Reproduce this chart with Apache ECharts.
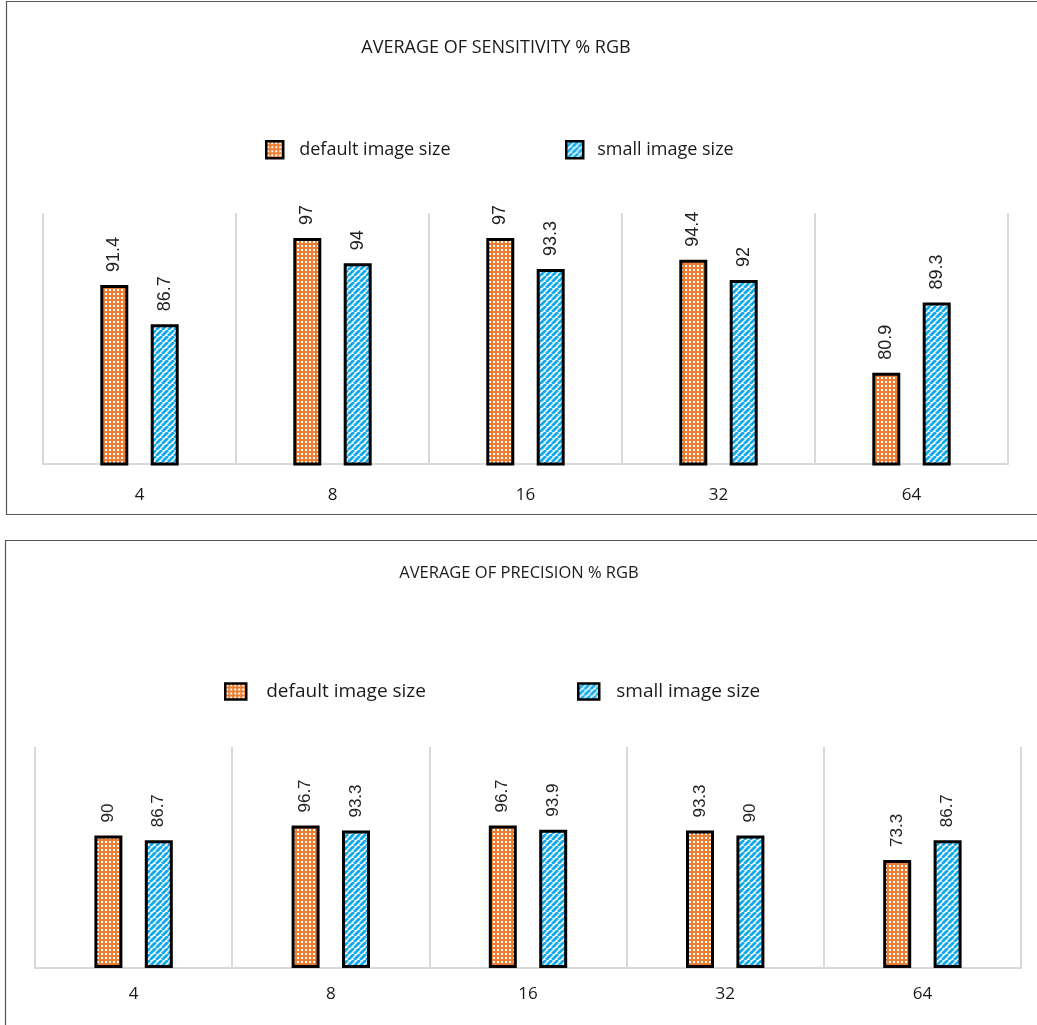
<!DOCTYPE html>
<html>
<head>
<meta charset="utf-8">
<script src="https://cdn.jsdelivr.net/npm/echarts@6/dist/echarts.min.js"></script>
<style>
  html, body { margin: 0; padding: 0; background: #fff; }
  #chart { width: 1037px; height: 1025px; }
</style>
</head>
<body>
<div id="chart"></div>
<script>
// Categories (number of something per image) shared by both panels
const categories = ['4', '8', '16', '32', '64'];
const seriesNames = ['default image size', 'small image size'];

// Panel 1: average sensitivity (%)
const sensitivityDefault = [91.4, 97, 97, 94.4, 80.9];
const sensitivitySmall = [86.7, 94, 93.3, 92, 89.3];

// Panel 2: average precision (%)
const precisionDefault = [90, 96.7, 96.7, 93.3, 73.3];
const precisionSmall = [86.7, 93.3, 93.9, 90, 86.7];

const titles = ['AVERAGE OF SENSITIVITY % RGB', 'AVERAGE OF PRECISION % RGB'];

// Fill patterns: orange dotted grid and blue diagonal stripes
function dotPattern() {
  const c = document.createElement('canvas');
  c.width = 4; c.height = 4;
  const g = c.getContext('2d');
  g.fillStyle = '#ED7D31';
  g.fillRect(0, 0, 4, 4);
  g.fillStyle = '#ffffff';
  g.fillRect(1, 1, 2, 2);
  return c;
}
function stripePattern() {
  const s = 6;
  const c = document.createElement('canvas');
  c.width = s; c.height = s;
  const g = c.getContext('2d');
  g.fillStyle = '#ffffff';
  g.fillRect(0, 0, s, s);
  g.strokeStyle = '#12A9EC';
  g.lineWidth = 2.8;
  for (let x = -s; x <= s; x += s) {
    g.beginPath();
    g.moveTo(x, s);
    g.lineTo(x + s, 0);
    g.stroke();
  }
  return c;
}
const orangeFill = { image: dotPattern(), repeat: 'repeat' };
const blueFill = { image: stripePattern(), repeat: 'repeat' };

const gridLine = '#D9D9D9';
const textColor = '#1a1a1a';
const uiFont = 'Open Sans';

function xAxis(gridIndex, margin) {
  return {
    type: 'category',
    gridIndex,
    data: categories,
    axisTick: { show: false },
    axisLine: { lineStyle: { color: gridLine, width: 2 } },
    splitLine: { show: true, lineStyle: { color: gridLine, width: 2 } },
    axisLabel: { fontSize: 17, color: textColor, fontFamily: uiFont, margin }
  };
}
function yAxis(gridIndex, min, max) {
  return {
    type: 'value', gridIndex, min, max,
    show: false,
    splitLine: { show: false }
  };
}
function barSeries(name, data, idx, fill, fontSize) {
  return {
    type: 'bar',
    name,
    data,
    xAxisIndex: idx,
    yAxisIndex: idx,
    barWidth: 28,
    barGap: '80%',
    itemStyle: { color: fill, borderColor: '#000', borderWidth: 3 },
    label: {
      show: true,
      position: 'top',
      rotate: 90,
      align: 'left',
      verticalAlign: 'middle',
      distance: 13,
      fontSize,
      color: '#222',
      fontFamily: 'Liberation Sans'
    }
  };
}
function legendItem(name, left, top, w, h, fontSize, gap) {
  return {
    data: [name],
    left, top,
    itemWidth: w, itemHeight: h,
    itemGap: 0,
    padding: 0,
    icon: 'rect',
    itemStyle: { borderColor: '#000', borderWidth: 2.5 },
    textStyle: { fontSize, color: textColor, fontFamily: uiFont, padding: [0, 0, 0, gap] }
  };
}

const chart = echarts.init(document.getElementById('chart'), null, { renderer: 'canvas' });
chart.setOption({
  animation: false,
  backgroundColor: '#fff',
  grid: [
    { left: 43, right: 29, top: 213, bottom: 561 },
    { left: 35, right: 16, top: 747, bottom: 57 }
  ],
  xAxis: [xAxis(0, 23), xAxis(1, 18)],
  yAxis: [yAxis(0, 70, 100), yAxis(1, 0, 150)],
  legend: [
    legendItem(seriesNames[0], 265, 140, 17, 17, 18, 11),
    legendItem(seriesNames[1], 565, 140, 17, 17, 18, 9),
    legendItem(seriesNames[0], 224, 682, 21, 16, 19, 15),
    legendItem(seriesNames[1], 577, 682, 21, 16, 19, 12)
  ],
  graphic: [
    { type: 'rect', shape: { x: 6.5, y: 1.5, width: 1100, height: 513 },
      style: { fill: 'none', stroke: '#555', lineWidth: 1.2 }, silent: true },
    { type: 'rect', shape: { x: 5.5, y: 540.5, width: 1100, height: 600 },
      style: { fill: 'none', stroke: '#555', lineWidth: 1.2 }, silent: true },
    { type: 'text', x: 496, y: 48,
      style: { text: titles[0], fontSize: 18, fontFamily: uiFont, fill: textColor,
               textAlign: 'center', textVerticalAlign: 'middle' } },
    { type: 'text', x: 519, y: 573,
      style: { text: titles[1], fontSize: 16.5, fontFamily: uiFont, fill: textColor,
               textAlign: 'center', textVerticalAlign: 'middle' } }
  ],
  series: [
    barSeries(seriesNames[0], sensitivityDefault, 0, orangeFill, 18),
    barSeries(seriesNames[1], sensitivitySmall, 0, blueFill, 18),
    barSeries(seriesNames[0], precisionDefault, 1, orangeFill, 17),
    barSeries(seriesNames[1], precisionSmall, 1, blueFill, 17)
  ]
});
</script>
</body>
</html>
